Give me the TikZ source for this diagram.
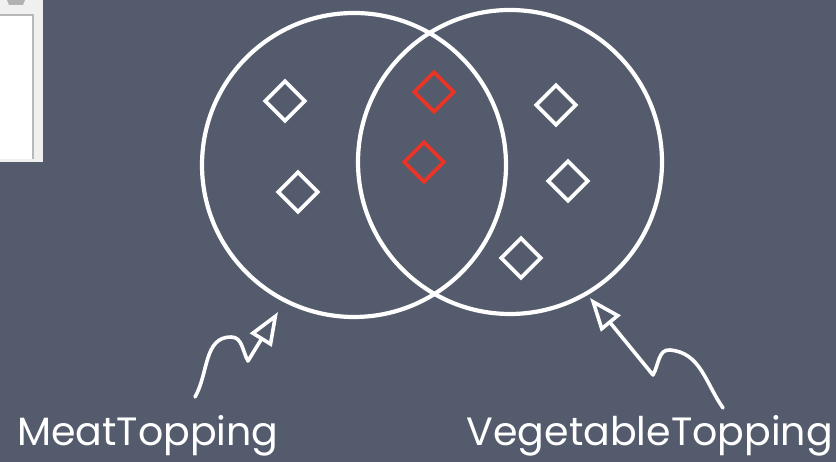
\documentclass[tikz,border=0pt]{standalone}
\usepackage{fontspec}
\setmainfont{Poppins}
\usepackage{xcolor}
\usetikzlibrary{arrows.meta,shapes.geometric}

\definecolor{board}{RGB}{83,91,108}
\definecolor{chalkred}{RGB}{236,52,38}

\begin{document}
\begin{tikzpicture}[
    x=1pt, y=1pt,
    setcirc/.style={circle,draw=white,line width=4.2pt,inner sep=0pt,minimum size=304pt},
    indiv/.style={diamond,draw=white,line width=3.8pt,inner sep=0pt,minimum size=41pt},
    shared/.style={indiv,draw=chalkred},
    pointer/.style={-{Triangle[open,length=33pt,width=25pt]},draw=white,line width=3.6pt,
                    line cap=round,line join=round},
    setname/.style={text=white,inner sep=0pt,font=\fontsize{39.5}{44}\selectfont},
  ]

  % --- board ---
  \fill[board] (0,0) rectangle (836,462);
  \useasboundingbox (0,0) rectangle (836,462);

  % --- corner of a window ---
  \fill[gray!12] (0,300) rectangle (43,462);
  \fill[white] (0,303) rectangle (33,447);
  \draw[gray!55,line width=1.5pt] (0,447) -- (33,447) -- (33,303);
  \fill[gray!60] (7,462) -- (9,457) -- (23,457) -- (25,462) -- cycle;

  % --- the two sets ---
  \node[setcirc] (meat) at (354,297) {};
  \node[setcirc] (veg)  at (510,300) {};

  % --- individuals ---
  \node[indiv]  (m1) at (285,361) {};
  \node[indiv]  (m2) at (298,270) {};
  \node[shared] (b1) at (434,370) {};
  \node[shared] (b2) at (424,300) {};
  \node[indiv]  (v1) at (556,357) {};
  \node[indiv]  (v2) at (568,281) {};
  \node[indiv]  (v3) at (521,204) {};

  % --- labels ---
  \node[setname,anchor=base west] (meatname) at (17,16)  {MeatTopping};
  \node[setname,anchor=base east] (vegname)  at (833,16) {VegetableTopping};

  % --- squiggly pointers ---
  \coordinate (meattail) at (195,65);
  \coordinate (meattip)  at (278,150);
  \coordinate (vegtail)  at (723,54);
  \coordinate (vegtip)   at (590,164);

  \draw[pointer] (meattail) to[out=60,in=180] (231,125)
                 to[out=0,in=120] (248,101) -- (meattip);
  \draw[pointer] (vegtail) to[out=125,in=-5] (670,112)
                 to[out=175,in=60] (653,87) -- (vegtip);

\end{tikzpicture}
\end{document}
